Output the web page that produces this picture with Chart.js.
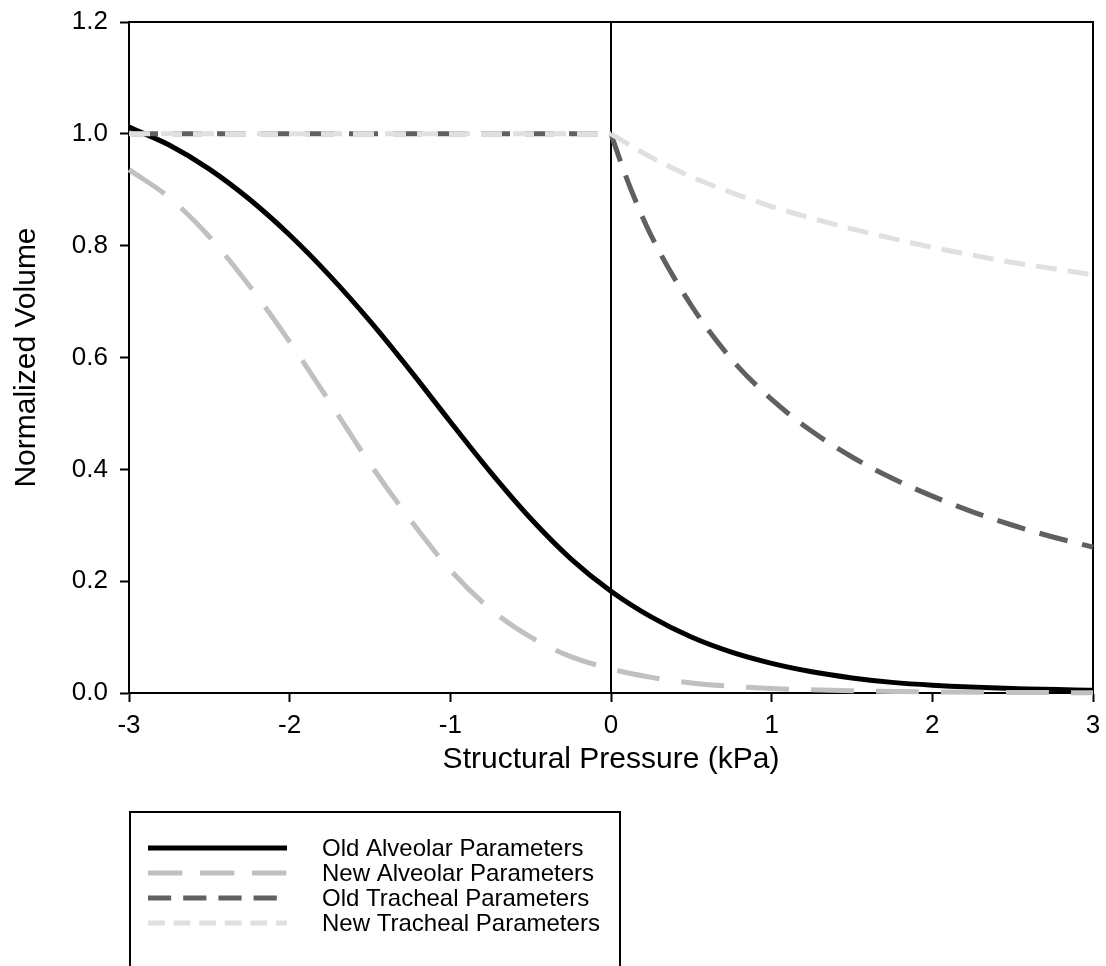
<!DOCTYPE html>
<html>
<head>
<meta charset="utf-8">
<script src="https://cdn.jsdelivr.net/npm/chart.js@4.4.1/dist/chart.umd.min.js"></script>
<style>
  html, body { margin: 0; padding: 0; background: #ffffff; }
  #wrap { position: relative; width: 1106px; height: 966px; }
</style>
</head>
<body>
<div id="wrap"><canvas id="c" width="1106" height="966"></canvas></div>
<script>
// ---- Data ----
const oldAlveolarP = [-3, -2.75, -2.5, -2.25, -2, -1.75, -1.5, -1.25, -1, -0.75, -0.5, -0.25, 0, 0.25, 0.5, 0.75, 1, 1.25, 1.5, 1.75, 2, 2.5, 3];
const oldAlveolarV = [1.012, 0.98, 0.937, 0.883, 0.819, 0.746, 0.665, 0.577, 0.485, 0.395, 0.312, 0.24, 0.182, 0.136, 0.10, 0.073, 0.053, 0.038, 0.027, 0.019, 0.014, 0.008, 0.005];

const newAlveolarP = [-3, -2.75, -2.5, -2.25, -2, -1.75, -1.5, -1.25, -1, -0.75, -0.5, -0.25, 0, 0.25, 0.5, 0.75, 1, 1.5, 2, 2.5, 3];
const newAlveolarV = [0.936, 0.886, 0.816, 0.728, 0.628, 0.52, 0.41, 0.31, 0.22, 0.15, 0.10, 0.065, 0.043, 0.028, 0.018, 0.012, 0.008, 0.004, 0.002, 0.001, 0.0005];

const trachealFlatP = [-3, 0];
const oldTrachealFlatV = [1.0, 1.0];
const newTrachealFlatV = [1.0, 1.0];

const oldTrachealP = [0, 0.0625, 0.125, 0.25, 0.5, 0.75, 1, 1.25, 1.5, 1.75, 2, 2.25, 2.5, 2.75, 3];
const oldTrachealV = [1.0, 0.948, 0.90, 0.818, 0.693, 0.597, 0.525, 0.468, 0.422, 0.384, 0.352, 0.324, 0.30, 0.279, 0.261];

const newTrachealP = [0, 0.25, 0.5, 0.75, 1, 1.25, 1.5, 1.75, 2, 2.25, 2.5, 2.75, 3];
const newTrachealV = [1.0, 0.958, 0.923, 0.895, 0.87, 0.849, 0.83, 0.813, 0.797, 0.783, 0.77, 0.759, 0.748];

const xTickValues = [-3, -2, -1, 0, 1, 2, 3];
const yTickValues = [0, 0.2, 0.4, 0.6, 0.8, 1.0, 1.2];
const seriesNames = ["Old Alveolar Parameters", "New Alveolar Parameters", "Old Tracheal Parameters", "New Tracheal Parameters"];

// ---- Styles ----
const FONT = "'Liberation Sans', Arial, Helvetica, sans-serif";
const styles = [
  { color: '#000000', width: 5, dash: [] },
  { color: '#c0c0c0', width: 5, dash: [43, 22] },
  { color: '#606060', width: 5, dash: [29, 15] },
  { color: '#e0e0e0', width: 5, dash: [21, 11] }
];

function pts(xs, ys) { return xs.map((x, i) => ({ x: x, y: ys[i] })); }

function ds(label, data, s, order, mode) {
  return {
    label: label,
    data: data,
    borderColor: s.color,
    backgroundColor: s.color,
    borderWidth: s.width,
    borderDash: s.dash,
    borderCapStyle: 'butt',
    pointRadius: 0,
    pointHoverRadius: 0,
    fill: false,
    cubicInterpolationMode: mode || 'monotone',
    order: order,
    clip: 4
  };
}

const datasets = [
  ds(seriesNames[0], pts(oldAlveolarP, oldAlveolarV), styles[0], 6),
  ds(seriesNames[1], pts(newAlveolarP, newAlveolarV), styles[1], 5),
  ds(seriesNames[2], pts(trachealFlatP, oldTrachealFlatV), styles[2], 4, 'default'),
  ds(seriesNames[2], pts(oldTrachealP, oldTrachealV), styles[2], 3),
  ds(seriesNames[3], pts(trachealFlatP, newTrachealFlatV), styles[3], 2, 'default'),
  ds(seriesNames[3], pts(newTrachealP, newTrachealV), styles[3], 1)
];

// Frame (top/right) and vertical zero line
const framePlugin = {
  id: 'frame',
  beforeDatasetsDraw(chart) {
    const { ctx, chartArea: a, scales } = chart;
    ctx.save();
    ctx.strokeStyle = '#000';
    ctx.lineWidth = 2;
    const x0 = Math.round(scales.x.getPixelForValue(0));
    ctx.beginPath();
    ctx.moveTo(x0, a.top);
    ctx.lineTo(x0, a.bottom);
    ctx.stroke();
    ctx.beginPath();
    ctx.moveTo(a.left - 1, a.top);
    ctx.lineTo(a.right, a.top);
    ctx.lineTo(a.right, a.bottom + 1);
    ctx.stroke();
    ctx.restore();
  }
};

// Legend box below the plot
const legendPlugin = {
  id: 'boxLegend',
  afterDraw(chart) {
    const { ctx } = chart;
    const boxL = 130, boxT = 812, boxR = 620, boxB = 975;
    const rowY = [848, 873, 898, 923];
    ctx.save();
    ctx.strokeStyle = '#000';
    ctx.lineWidth = 2;
    ctx.strokeRect(boxL, boxT, boxR - boxL, boxB - boxT);
    ctx.font = '24px ' + FONT;
    ctx.textBaseline = 'middle';
    ctx.textAlign = 'left';
    for (let i = 0; i < 4; i++) {
      const s = styles[i];
      ctx.beginPath();
      ctx.strokeStyle = s.color;
      ctx.lineWidth = s.width;
      ctx.lineCap = 'butt';
      ctx.setLineDash(s.dash.map(v => v * 0.8));
      ctx.moveTo(148, rowY[i]);
      ctx.lineTo(287, rowY[i]);
      ctx.stroke();
      ctx.setLineDash([]);
      ctx.fillStyle = '#000';
      ctx.fillText(seriesNames[i], 322, rowY[i] + 1);
    }
    ctx.restore();
  }
};

new Chart(document.getElementById('c'), {
  type: 'line',
  data: { datasets: datasets },
  options: {
    responsive: false,
    animation: false,
    events: [],
    layout: { padding: { top: 22, right: 13, left: 0, bottom: 188 } },
    plugins: { legend: { display: false }, tooltip: { enabled: false }, title: { display: false } },
    scales: {
      x: {
        type: 'linear',
        min: -3, max: 3,
        afterFit(scale) { scale.height = 85; scale.paddingLeft = 0; scale.paddingRight = 0; },
        afterBuildTicks(scale) { scale.ticks = xTickValues.map(v => ({ value: v })); },
        ticks: {
          color: '#000',
          font: { family: FONT, size: 26 },
          padding: 8,
          maxRotation: 0,
          callback: v => String(v)
        },
        grid: { drawOnChartArea: false, drawTicks: true, tickLength: 9, tickWidth: 2, tickColor: '#000' },
        border: { display: true, color: '#000', width: 2 },
        title: {
          display: true,
          text: 'Structural Pressure (kPa)',
          color: '#000',
          font: { family: FONT, size: 30 },
          padding: { top: 0, bottom: 0 }
        }
      },
      y: {
        type: 'linear',
        min: 0, max: 1.2,
        afterFit(scale) { scale.width = 129; scale.paddingTop = 0; scale.paddingBottom = 0; },
        afterBuildTicks(scale) { scale.ticks = yTickValues.map(v => ({ value: v })); },
        ticks: {
          color: '#000',
          font: { family: FONT, size: 26 },
          padding: 12,
          callback: v => Number(v).toFixed(1)
        },
        grid: { drawOnChartArea: false, drawTicks: true, tickLength: 9, tickWidth: 2, tickColor: '#000' },
        border: { display: true, color: '#000', width: 2 },
        title: {
          display: true,
          text: 'Normalized Volume',
          color: '#000',
          font: { family: FONT, size: 30 },
          padding: { top: 9, bottom: 0 }
        }
      }
    }
  },
  plugins: [framePlugin, legendPlugin]
});
</script>
</body>
</html>
